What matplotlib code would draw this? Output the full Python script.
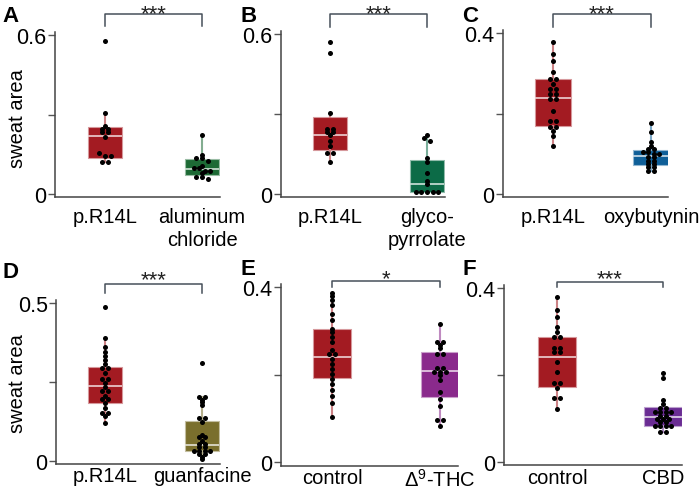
import numpy as np
import matplotlib.pyplot as plt
from matplotlib.transforms import blended_transform_factory
from matplotlib.colors import to_rgb

plt.rcParams['font.family'] = ['Liberation Sans', 'DejaVu Sans']
plt.rcParams['mathtext.default'] = 'regular'

W, H = 700, 489

# ---- data ----
panel_tags = ['A', 'B', 'C', 'D', 'E', 'F']
group_names = [['p.R14L', 'aluminum\nchloride'],
               ['p.R14L', 'glyco-\npyrrolate'],
               ['p.R14L', 'oxybutynin'],
               ['p.R14L', 'guanfacine'],
               ['control', '$\\Delta^{9}$-THC'],
               ['control', 'CBD']]
signif = ['***', '***', '***', '***', '*', '***']
ytop = [0.6, 0.6, 0.4, 0.5, 0.4, 0.4]
ytop_labels = ['0.6', '0.6', '0.4', '0.5', '0.4', '0.4']

# box stats: (whisker low, q1, median, q3, whisker high)
box_a = [(0.120, 0.136, 0.219, 0.253, 0.306), (0.057, 0.072, 0.094, 0.132, 0.224)]
box_b = [(0.119, 0.166, 0.222, 0.287, 0.304), (0.006, 0.006, 0.037, 0.129, 0.221)]
box_c = [(0.120, 0.170, 0.239, 0.286, 0.377), (0.058, 0.073, 0.094, 0.110, 0.176)]
box_d = [(0.119, 0.182, 0.237, 0.297, 0.390), (0.006, 0.031, 0.050, 0.127, 0.203)]
box_e = [(0.104, 0.192, 0.240, 0.304, 0.387), (0.082, 0.148, 0.208, 0.252, 0.315)]
box_f = [(0.122, 0.172, 0.241, 0.287, 0.379), (0.068, 0.083, 0.103, 0.126, 0.143)]

pts_a0 = [0.579, 0.306, 0.258, 0.246, 0.246, 0.233, 0.233, 0.214, 0.154, 0.145, 0.145, 0.120, 0.120]
pts_a1 = [0.224, 0.147, 0.135, 0.135, 0.126, 0.107, 0.097, 0.097, 0.088, 0.088, 0.078, 0.065, 0.065, 0.057]
pts_b0 = [0.571, 0.528, 0.304, 0.244, 0.244, 0.232, 0.232, 0.220, 0.200, 0.180, 0.152, 0.152, 0.119]
pts_b1 = [0.221, 0.209, 0.200, 0.134, 0.121, 0.079, 0.050, 0.036, 0.007, 0.007, 0.007, 0.007, 0.007]
pts_c0 = [0.377, 0.348, 0.330, 0.302, 0.286, 0.286, 0.273, 0.261, 0.261, 0.248, 0.248, 0.236, 0.236,
          0.205, 0.182, 0.182, 0.167, 0.167, 0.157, 0.145, 0.120]
pts_c1 = [0.176, 0.155, 0.130, 0.120, 0.112, 0.112, 0.105, 0.105, 0.099, 0.099, 0.091, 0.091,
          0.083, 0.083, 0.075, 0.075, 0.066, 0.066, 0.058, 0.058]
pts_d0 = [0.487, 0.390, 0.361, 0.346, 0.332, 0.320, 0.308, 0.295, 0.295, 0.280, 0.258, 0.258, 0.248,
          0.234, 0.222, 0.222, 0.206, 0.195, 0.195, 0.182, 0.169, 0.153, 0.153, 0.142, 0.119]
pts_d1 = [0.310, 0.203, 0.203, 0.194, 0.186, 0.177, 0.136, 0.136, 0.122, 0.083, 0.075, 0.075, 0.064,
          0.054, 0.054, 0.043, 0.043, 0.033, 0.033, 0.033, 0.033, 0.022, 0.022, 0.014, 0.006]
pts_e0 = [0.387, 0.379, 0.370, 0.358, 0.339, 0.324, 0.305, 0.297, 0.286, 0.274, 0.255, 0.248, 0.248,
          0.236, 0.225, 0.213, 0.202, 0.190, 0.179, 0.165, 0.152, 0.135, 0.104]
pts_e1 = [0.315, 0.275, 0.275, 0.267, 0.260, 0.247, 0.247, 0.214, 0.214, 0.206, 0.206, 0.206, 0.199,
          0.187, 0.159, 0.144, 0.129, 0.096, 0.096, 0.082]
pts_f0 = [0.379, 0.350, 0.333, 0.310, 0.298, 0.287, 0.287, 0.262, 0.262, 0.252, 0.252, 0.229, 0.207,
          0.181, 0.181, 0.171, 0.148, 0.148, 0.122]
pts_f1 = [0.205, 0.192, 0.143, 0.133, 0.124, 0.124, 0.114, 0.114, 0.114, 0.114, 0.106, 0.106,
          0.099, 0.099, 0.099, 0.091, 0.091, 0.082, 0.082, 0.082, 0.082, 0.068, 0.068]

boxes = [box_a, box_b, box_c, box_d, box_e, box_f]
points = [[pts_a0, pts_a1], [pts_b0, pts_b1], [pts_c0, pts_c1],
          [pts_d0, pts_d1], [pts_e0, pts_e1], [pts_f0, pts_f1]]

red = '#a31b22'
box_colors = [[red, '#1d6a35'], [red, '#0c6b47'], [red, '#0f5f98'],
              [red, '#7a6f2d'], [red, '#8a2a8c'], [red, '#6a2c93']]

# ---- layout in pixels: axis left, right, y of 0, y of top tick, box centres ----
geom = [(55, 220, 195, 36, 105, 202),
        (281, 445, 195, 35, 330, 427),
        (503, 668, 195, 34, 553, 651),
        (56, 220, 462, 304, 105, 202),
        (281, 458, 463, 288, 332, 440),
        (504, 682, 463, 289, 557, 663)]
brackets = [(15, 27, 20), (15, 28, 20), (15, 28, 20),
            (285, 294, 286), (282, 288, 285), (283, 288, 285)]
tag_pos = [(2, 22), (241, 22), (462, 22), (2, 278), (241, 275), (462, 275)]
label_pad = [7, 7, 7, 1.5, 1.5, 1.5]
ylabel_pos = {0: (18, 119), 3: (18, 384)}


def lighten(c, f):
    r = np.array(to_rgb(c))
    return tuple(r + (1 - r) * f)


def swarm(vals, ppu_y, ppu_x, dot=5.6):
    """symmetric horizontal offsets for points sharing (almost) the same height"""
    v = np.asarray(vals, dtype=float)
    order = np.argsort(-v)
    offs = np.zeros(len(v))
    groups, cur = [], [order[0]]
    for i in order[1:]:
        if (v[cur[0]] - v[i]) * ppu_y < 2.5:
            cur.append(i)
        else:
            groups.append(cur)
            cur = [i]
    groups.append(cur)
    for g in groups:
        n = len(g)
        for k, i in enumerate(g):
            offs[i] = (k - (n - 1) / 2) * dot / ppu_x
    return offs


fig = plt.figure(figsize=(W / 100, H / 100), dpi=100)
FS = 14.5

for p in range(6):
    left, right, y0, yt, c0, c1 = geom[p]
    top = ytop[p]
    ppu_y = (y0 - yt) / top
    ylo, yhi = -0.02 * top, 1.02 * top
    bot_px = y0 - ylo * ppu_y
    top_px = y0 - yhi * ppu_y
    ax = fig.add_axes([left / W, 1 - bot_px / H, (right - left) / W, (bot_px - top_px) / H])
    ppu_x = c1 - c0
    ax.set_xlim((left - c0) / ppu_x, (right - c0) / ppu_x)
    ax.set_ylim(ylo, yhi)

    stats = []
    for j, b in enumerate(boxes[p]):
        stats.append(dict(whislo=b[0], q1=b[1], med=b[2], q3=b[3], whishi=b[4],
                          fliers=[], label=group_names[p][j]))
    for j in range(2):
        col = box_colors[p][j]
        ax.bxp([stats[j]], positions=[j], widths=0.36, patch_artist=True, showcaps=False,
               showfliers=False, zorder=2,
               boxprops=dict(facecolor=col, edgecolor=lighten(col, 0.55), linewidth=0.8),
               medianprops=dict(color=lighten(col, 0.8), linewidth=1.2),
               whiskerprops=dict(color=lighten(col, 0.45), linewidth=1.5))
        vals = points[p][j]
        xo = swarm(vals, ppu_y, ppu_x)
        ax.scatter(j + xo, vals, s=13, color='black', zorder=3, linewidths=0)

    ax.set_xticks([0, 1])
    ax.set_xticklabels(group_names[p], fontsize=FS, linespacing=1.25)
    ax.tick_params(axis='x', length=0, pad=label_pad[p])
    ax.set_yticks([0, top / 2, top])
    ax.set_yticklabels(['0', '', ytop_labels[p]], fontsize=15.5)
    ax.tick_params(axis='y', length=5, width=1, color='#555555', pad=1)
    for s in ['top', 'right']:
        ax.spines[s].set_visible(False)
    for s in ['left', 'bottom']:
        ax.spines[s].set_color('#444444')
        ax.spines[s].set_linewidth(1.1)
    if p in ylabel_pos:
        lx, ly = ylabel_pos[p]
        fig.text(lx / W, 1 - ly / H, 'sweat area', fontsize=FS, rotation=90,
                 ha='center', va='center')

    # significance bracket
    by, bd, sy = brackets[p]
    tr = blended_transform_factory(ax.transData, fig.transFigure)
    ax.plot([0, 0, 1, 1], [1 - bd / H, 1 - by / H, 1 - by / H, 1 - bd / H], transform=tr,
            color='#46505a', linewidth=1.1, clip_on=False)
    ax.text(0.5, 1 - sy / H, signif[p], transform=tr, ha='center', va='baseline',
            fontsize=16, color='#222222')

    tx, ty = tag_pos[p]
    fig.text(tx / W, 1 - ty / H, panel_tags[p], fontsize=16, fontweight='bold', va='baseline')

fig.savefig('out.png', dpi=100)
